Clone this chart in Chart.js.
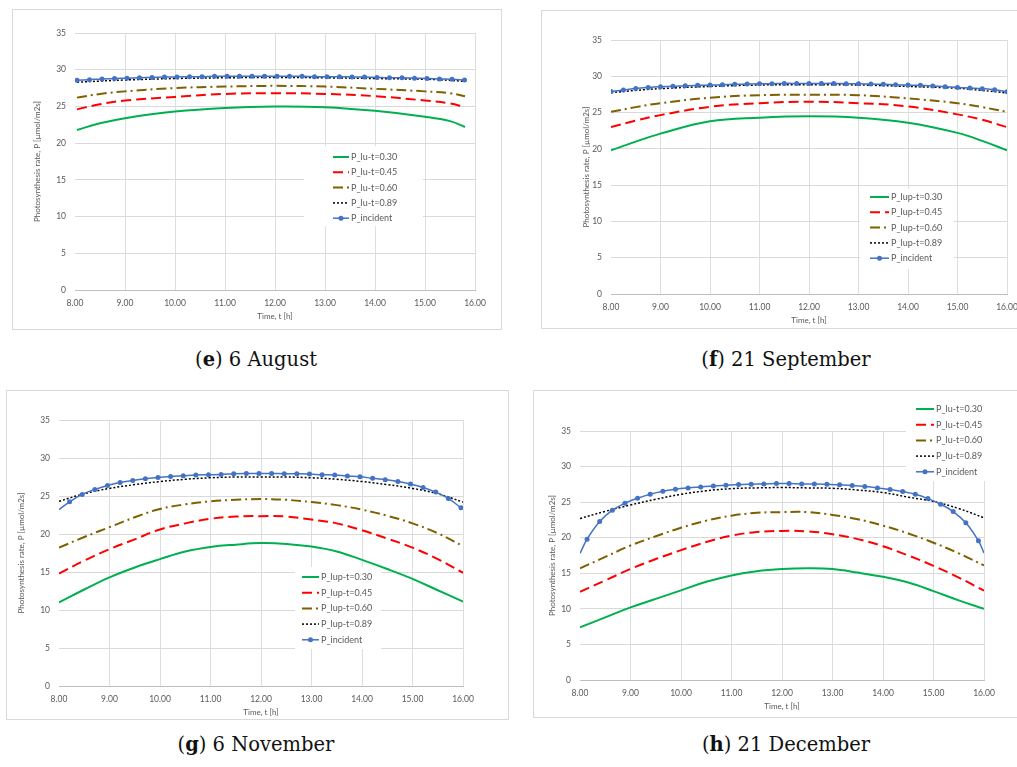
<!DOCTYPE html>
<html>
<head>
<meta charset="utf-8">
<script src="https://cdn.jsdelivr.net/npm/chart.js@4.4.1/dist/chart.umd.min.js"></script>
<style>
  body { margin: 0; width: 1017px; height: 767px; overflow: hidden; background: #fff; position: relative; }
  .panel { position: absolute; border: 1px solid #d9d9d9; background: #fff; }
  .panel canvas { display: block; }
  .cap { position: absolute; width: 400px; text-align: center; font-family: "DejaVu Serif", serif; font-size: 19.5px; line-height: 22px; color: #111; }
</style>
</head>
<body>
<div class="panel" style="left:12px;top:9px;"><canvas id="chartE" width="488" height="319"></canvas></div>
<div class="panel" style="left:541px;top:10px;"><canvas id="chartF" width="489" height="317"></canvas></div>
<div class="panel" style="left:6px;top:390px;"><canvas id="chartG" width="501" height="328"></canvas></div>
<div class="panel" style="left:533px;top:390px;"><canvas id="chartH" width="497" height="326"></canvas></div>

<div class="cap" style="left:56px;top:349px;">(<b>e</b>) 6 August</div>
<div class="cap" style="left:586px;top:349px;">(<b>f</b>) 21 September</div>
<div class="cap" style="left:56px;top:734px;">(<b>g</b>) 6 November</div>
<div class="cap" style="left:586px;top:734px;">(<b>h</b>) 21 December</div>

<script>
// legend labels
const luLabels = ["P_lu-t=0.30", "P_lu-t=0.45", "P_lu-t=0.60", "P_lu-t=0.89", "P_incident"];
const lupLabels = ["P_lup-t=0.30", "P_lup-t=0.45", "P_lup-t=0.60", "P_lup-t=0.89", "P_incident"];
const yTitle = "Photosynthesis rate, P [µmol/m2s]";
const xTitle = "Time, t [h]";

// (e) 6 August
const augTimes = [8.04, 8.5, 9, 10, 11, 12, 13, 14, 15, 15.5, 15.8];
const augP030 = [21.8, 22.7, 23.4, 24.3, 24.8, 25.0, 24.9, 24.4, 23.6, 23.0, 22.2];
const augP045 = [24.6, 25.3, 25.8, 26.3, 26.7, 26.8, 26.7, 26.4, 25.8, 25.4, 24.9];
const augP060 = [26.2, 26.7, 27.05, 27.5, 27.7, 27.8, 27.7, 27.4, 27.05, 26.8, 26.4];
const augP089 = [28.3, 28.45, 28.6, 28.8, 28.9, 28.95, 28.9, 28.8, 28.7, 28.55, 28.4];
const augIncTimes = [8.04, 8.29, 8.54, 8.79, 9.04, 9.29, 9.54, 9.79, 10.04, 10.29, 10.54, 10.79,
  11.04, 11.29, 11.54, 11.79, 12.04, 12.29, 12.54, 12.79, 13.04, 13.29, 13.54, 13.79,
  14.04, 14.29, 14.54, 14.79, 15.04, 15.29, 15.54, 15.79];
const augInc = [28.55, 28.65, 28.75, 28.8, 28.85, 28.9, 28.95, 29.0, 29.0, 29.05, 29.05, 29.1,
  29.1, 29.1, 29.1, 29.1, 29.1, 29.1, 29.1, 29.05, 29.05, 29.05, 29.0, 29.0,
  28.95, 28.9, 28.9, 28.85, 28.8, 28.75, 28.7, 28.6];

// (f) 21 September
const sepTimes = [8, 8.5, 9, 10, 11, 12, 13, 14, 15, 15.5, 16];
const sepP030 = [19.8, 21.0, 22.1, 23.8, 24.3, 24.5, 24.3, 23.6, 22.2, 21.1, 19.8];
const sepP045 = [23.0, 23.9, 24.65, 25.8, 26.3, 26.5, 26.3, 25.85, 24.75, 24.0, 23.0];
const sepP060 = [25.1, 25.75, 26.3, 27.05, 27.4, 27.45, 27.4, 26.95, 26.3, 25.75, 25.1];
const sepP089 = [27.75, 28.05, 28.3, 28.6, 28.8, 28.85, 28.8, 28.6, 28.35, 28.05, 27.7];
const sepIncTimes = [8, 8.25, 8.5, 8.75, 9, 9.25, 9.5, 9.75, 10, 10.25, 10.5, 10.75,
  11, 11.25, 11.5, 11.75, 12, 12.25, 12.5, 12.75, 13, 13.25, 13.5, 13.75,
  14, 14.25, 14.5, 14.75, 15, 15.25, 15.5, 15.75, 16];
const sepInc = [27.92, 28.1, 28.33, 28.47, 28.56, 28.61, 28.7, 28.75, 28.79, 28.84, 28.89, 28.93,
  28.98, 28.98, 29.02, 29.02, 29.02, 29.02, 29.02, 28.98, 28.98, 28.93, 28.89, 28.84,
  28.79, 28.75, 28.66, 28.56, 28.47, 28.38, 28.29, 28.15, 27.88];

// (g) 6 November
const novTimes = [8, 8.5, 9, 9.5, 10, 10.5, 11, 11.5, 12, 12.5, 13, 13.5, 14, 14.5, 15, 15.5, 16];
const novP030 = [11.0, 12.7, 14.3, 15.6, 16.7, 17.7, 18.3, 18.6, 18.8, 18.7, 18.35, 17.7, 16.6, 15.4, 14.1, 12.6, 11.1];
const novP045 = [14.8, 16.5, 18.0, 19.3, 20.6, 21.4, 22.0, 22.3, 22.35, 22.3, 21.9, 21.4, 20.5, 19.4, 18.2, 16.7, 14.9];
const novP060 = [18.2, 19.6, 20.9, 22.2, 23.3, 23.9, 24.3, 24.5, 24.6, 24.5, 24.2, 23.8, 23.2, 22.4, 21.4, 20.1, 18.4];
const novP089 = [24.3, 25.3, 26.0, 26.5, 26.9, 27.2, 27.4, 27.5, 27.5, 27.5, 27.4, 27.2, 26.9, 26.5, 26.0, 25.3, 24.2];
const novIncTimes = [8.0, 8.21, 8.46, 8.71, 8.96, 9.21, 9.46, 9.71, 9.96, 10.21, 10.46, 10.71,
  10.96, 11.21, 11.46, 11.71, 11.96, 12.21, 12.46, 12.71, 12.96, 13.21, 13.46, 13.71,
  13.96, 14.21, 14.46, 14.71, 14.96, 15.21, 15.46, 15.71, 15.96];
const novInc = [23.2, 24.24, 25.21, 25.87, 26.39, 26.79, 27.05, 27.27, 27.45, 27.58, 27.67, 27.76,
  27.8, 27.84, 27.93, 27.97, 27.97, 27.97, 27.93, 27.93, 27.89, 27.8, 27.76, 27.62,
  27.54, 27.32, 27.14, 26.92, 26.57, 26.13, 25.51, 24.68, 23.45];

// (h) 21 December
const decTimes = [8, 8.5, 9, 9.5, 10, 10.5, 11, 11.5, 12, 12.5, 13, 13.5, 14, 14.5, 15, 15.5, 16];
const decP030 = [7.4, 8.8, 10.2, 11.4, 12.6, 13.8, 14.7, 15.3, 15.6, 15.7, 15.6, 15.1, 14.5, 13.7, 12.5, 11.2, 10.0];
const decP045 = [12.4, 14.0, 15.6, 17.0, 18.25, 19.4, 20.3, 20.8, 20.95, 20.9, 20.5, 19.8, 18.8, 17.5, 16.05, 14.4, 12.55];
const decP060 = [15.7, 17.3, 18.9, 20.2, 21.4, 22.4, 23.1, 23.5, 23.6, 23.6, 23.2, 22.6, 21.7, 20.6, 19.3, 17.8, 16.1];
const decP089 = [22.7, 23.7, 24.6, 25.4, 26.1, 26.6, 26.9, 27.0, 27.05, 27.0, 26.95, 26.7, 26.35, 25.7, 25.1, 24.1, 22.8];
const decIncTimes = [8.0, 8.14, 8.39, 8.64, 8.89, 9.14, 9.39, 9.64, 9.89, 10.14, 10.39, 10.64,
  10.89, 11.14, 11.39, 11.64, 11.89, 12.14, 12.39, 12.64, 12.89, 13.14, 13.39, 13.64,
  13.89, 14.14, 14.39, 14.64, 14.89, 15.14, 15.39, 15.64, 15.89, 16.0];
const decInc = [17.8, 19.79, 22.27, 23.87, 24.85, 25.55, 26.11, 26.53, 26.81, 27.0, 27.14, 27.28,
  27.38, 27.47, 27.52, 27.56, 27.61, 27.61, 27.56, 27.56, 27.52, 27.43, 27.33, 27.19,
  27.0, 26.77, 26.49, 26.11, 25.5, 24.71, 23.68, 22.09, 19.56, 17.85];

Chart.defaults.font.family = "Lato, 'Open Sans', sans-serif";
Chart.defaults.color = "#595959";

const lineColors = ["#00b050", "#ff0000", "#7f6000", "#000000"];
const lineDashes = [[], [10, 5], [10, 4, 2, 4], [2, 2]];
const lineWidths = [2, 2, 2, 1.5];
const blue = "#4472c4";

// draws the legend inside the plot with a white box behind it
const boxLegend = {
  id: "boxLegend",
  beforeDatasetsDraw(chart, args, opts) {
    const ctx = chart.ctx;
    const b = opts.box;
    ctx.save();
    ctx.fillStyle = "#ffffff";
    ctx.fillRect(b[0], b[1], b[2], b[3]);
    ctx.font = "9px Lato";
    ctx.textBaseline = "middle";
    chart.data.datasets.forEach((ds, i) => {
      const y = opts.y + i * opts.rowH;
      ctx.strokeStyle = ds.borderColor;
      ctx.lineWidth = ds.borderWidth;
      ctx.setLineDash(ds.borderDash || []);
      ctx.beginPath();
      ctx.moveTo(opts.x, y);
      ctx.lineTo(opts.x + opts.lineW, y);
      ctx.stroke();
      if (ds.withMarker) {
        ctx.setLineDash([]);
        ctx.fillStyle = ds.borderColor;
        ctx.beginPath();
        ctx.arc(opts.x + opts.lineW / 2, y, 2.5, 0, Math.PI * 2);
        ctx.fill();
      }
      ctx.fillStyle = "#595959";
      ctx.fillText(ds.label, opts.x + opts.lineW + 2, y);
    });
    ctx.restore();
  },
};

function makeChart(id, p) {
  const canvas = document.getElementById(id);
  const w = canvas.width;
  const h = canvas.height;
  const xH = h - p.area.b;

  const curves = [p.p030, p.p045, p.p060, p.p089];
  const datasets = curves.map((vals, i) => ({
    label: p.labels[i],
    data: p.times.map((t, k) => ({ x: t, y: vals[k] })),
    borderColor: lineColors[i],
    borderWidth: lineWidths[i],
    borderDash: lineDashes[i],
    pointRadius: 0,
    tension: 0.4,
    order: i + 1,
  }));
  datasets.push({
    label: p.labels[4],
    data: p.incTimes.map((t, k) => ({ x: t, y: p.inc[k] })),
    borderColor: blue,
    backgroundColor: blue,
    borderWidth: 1.5,
    pointRadius: (c) => (p.bare.includes(c.dataIndex) ? 0 : 2.5),
    pointBorderWidth: 0,
    tension: 0.4,
    withMarker: true,
    order: 0,
  });

  return new Chart(canvas, {
    type: "line",
    data: { datasets: datasets },
    options: {
      responsive: false,
      animation: false,
      devicePixelRatio: 1,
      layout: {
        padding: { left: p.area.l - p.yW, top: p.area.t, right: w - p.area.r, bottom: 0 },
      },
      scales: {
        x: {
          type: "linear",
          min: 8,
          max: 16,
          afterFit: (s) => { s.height = xH; },
          ticks: { stepSize: 1, padding: 8, font: { size: 8.5 }, callback: (v) => v.toFixed(2) },
          grid: {
            drawTicks: false,
            color: (c) => (c.tick && c.tick.value === 8 ? "rgba(0,0,0,0)" : "#dedede"),
          },
          border: { color: "#bfbfbf" },
          title: { display: true, text: xTitle, font: { size: 8 }, padding: { top: 0, bottom: xH - 31 } },
        },
        y: {
          min: 0,
          max: 35,
          afterFit: (s) => { s.width = p.yW; },
          ticks: { stepSize: 5, padding: 9, font: { size: 8.5 } },
          grid: { drawTicks: false, color: "#d9d9d9" },
          border: { display: false },
          title: { display: true, text: yTitle, font: { size: 8 }, padding: { top: 4, bottom: 0 } },
        },
      },
      plugins: {
        legend: { display: false },
        tooltip: { enabled: false },
        boxLegend: p.legend,
      },
    },
    plugins: [boxLegend],
  });
}

makeChart("chartE", {
  labels: luLabels, times: augTimes, p030: augP030, p045: augP045, p060: augP060, p089: augP089,
  incTimes: augIncTimes, inc: augInc, bare: [],
  area: { l: 62, t: 23, r: 462, b: 280 }, yW: 46,
  legend: { x: 320, y: 147, rowH: 15.3, lineW: 16, box: [291, 136, 119, 80] },
});
makeChart("chartF", {
  labels: lupLabels, times: sepTimes, p030: sepP030, p045: sepP045, p060: sepP060, p089: sepP089,
  incTimes: sepIncTimes, inc: sepInc, bare: [],
  area: { l: 69, t: 29, r: 465, b: 283 }, yW: 33,
  legend: { x: 328, y: 186, rowH: 15.3, lineW: 19, box: [318, 178, 94, 80] },
});
makeChart("chartG", {
  labels: lupLabels, times: novTimes, p030: novP030, p045: novP045, p060: novP060, p089: novP089,
  incTimes: novIncTimes, inc: novInc, bare: [0],
  area: { l: 52, t: 29, r: 456, b: 295 }, yW: 46,
  legend: { x: 295, y: 186, rowH: 15.7, lineW: 17, box: [288, 176, 86, 82] },
});
makeChart("chartH", {
  labels: luLabels, times: decTimes, p030: decP030, p045: decP045, p060: decP060, p089: decP089,
  incTimes: decIncTimes, inc: decInc, bare: [0, 33],
  area: { l: 46, t: 40, r: 450, b: 289 }, yW: 36,
  legend: { x: 382, y: 18, rowH: 15.7, lineW: 18, box: [372, 8, 100, 82] },
});
</script>
</body>
</html>
